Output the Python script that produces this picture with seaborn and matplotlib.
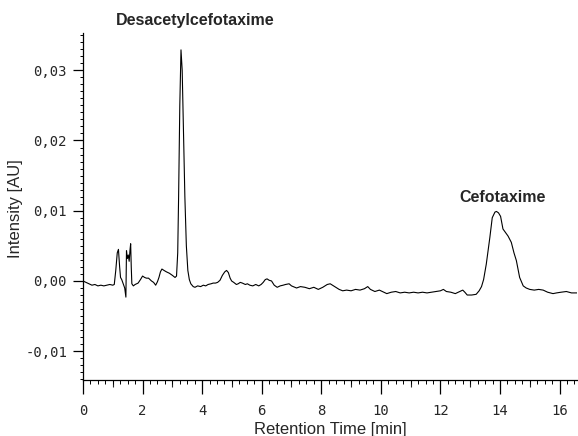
import numpy as np
import pandas as pd
import matplotlib
matplotlib.use('Agg')
import matplotlib.pyplot as plt
import matplotlib.ticker as mticker
import seaborn as sns

# chromatogram trace (min, AU)
time_min = [0.0, 0.05, 0.1, 0.2, 0.3, 0.4, 0.5, 0.6, 0.7, 0.8, 0.9, 1.0, 1.05,
            1.1, 1.15, 1.19, 1.23, 1.26, 1.3, 1.35, 1.4, 1.44, 1.46, 1.49, 1.52,
            1.55, 1.58, 1.6, 1.62, 1.64, 1.69, 1.75, 1.85, 1.93, 2.0, 2.07, 2.13,
            2.2, 2.3, 2.37, 2.44, 2.5, 2.55, 2.6, 2.65, 2.72, 2.8, 2.9, 3.0, 3.09,
            3.14, 3.18, 3.21, 3.25, 3.29, 3.33, 3.37, 3.42, 3.47, 3.52, 3.57, 3.62,
            3.7, 3.76, 3.85, 3.95, 4.04, 4.12, 4.2, 4.3, 4.37, 4.45, 4.52, 4.6,
            4.68, 4.76, 4.82, 4.88, 4.94, 4.99, 5.06, 5.15, 5.21, 5.28, 5.35, 5.45,
            5.52, 5.6, 5.7, 5.8, 5.9, 5.98, 6.05, 6.12, 6.18, 6.25, 6.33, 6.42,
            6.52, 6.62, 6.72, 6.8, 6.92, 7.0, 7.06, 7.17, 7.3, 7.45, 7.6, 7.75,
            7.9, 8.05, 8.2, 8.3, 8.45, 8.6, 8.72, 8.85, 9.0, 9.15, 9.3, 9.45,
            9.56, 9.65, 9.8, 9.95, 10.05, 10.2, 10.35, 10.5, 10.65, 10.8, 10.95,
            11.1, 11.25, 11.4, 11.55, 11.7, 11.85, 12.0, 12.1, 12.2, 12.35, 12.5,
            12.6, 12.75, 12.82, 12.9, 13.05, 13.2, 13.3, 13.38, 13.45, 13.54,
            13.66, 13.74, 13.83, 13.88, 13.95, 14.02, 14.1, 14.2, 14.27, 14.38,
            14.47, 14.55, 14.66, 14.78, 14.88, 15.0, 15.15, 15.3, 15.45, 15.6,
            15.78, 15.9, 16.05, 16.23, 16.4, 16.6]
intensity = [0.0, -0.0001, -0.0002, -0.0004, -0.0006, -0.0005, -0.0007, -0.0006,
             -0.0007, -0.0006, -0.0005, -0.0006, -0.0005,
             0.0015, 0.0040, 0.0045, 0.0020, 0.0005, 0.0002, -0.0004, -0.0010,
             -0.0023, 0.0043, 0.0032, 0.0037, 0.0028, 0.0045, 0.0053, 0.0020,
             -0.0004, -0.0007, -0.0005, -0.0003, 0.0002, 0.0007, 0.0005, 0.0004,
             0.0004, 0.0, -0.0002, -0.0006, -0.0001, 0.0005, 0.0013, 0.0017,
             0.0015, 0.0013, 0.0011, 0.0008, 0.0005,
             0.0007, 0.0040, 0.0120, 0.0250, 0.0329, 0.0300, 0.0220, 0.0120,
             0.0050, 0.0015, 0.0002, -0.0004,
             -0.0008, -0.0009, -0.0007, -0.0008, -0.0006, -0.0007, -0.0005,
             -0.0004, -0.0003, -0.0003, -0.0002, 0.0001,
             0.0008, 0.0013, 0.0015, 0.0012, 0.0004, 0.0, -0.0002, -0.0005,
             -0.0004, -0.0002, -0.0003, -0.0005,
             -0.0004, -0.0006, -0.0007, -0.0005, -0.0007, -0.0005, -0.0002,
             0.0002, 0.0003, 0.0001, 0.0, -0.0006,
             -0.0009, -0.0007, -0.0006, -0.0005, -0.0004, -0.0007, -0.0008,
             -0.0010, -0.0008, -0.0009, -0.0011, -0.0009,
             -0.0012, -0.0009, -0.0005, -0.0004, -0.0008, -0.0012, -0.0014,
             -0.0013, -0.0014, -0.0012, -0.0013, -0.0011,
             -0.0008, -0.0012, -0.0015, -0.0013, -0.0015, -0.0018, -0.0016,
             -0.0015, -0.0017, -0.0016, -0.0017,
             -0.0016, -0.0017, -0.0016, -0.0017, -0.0016, -0.0015, -0.0014,
             -0.0012, -0.0015, -0.0016, -0.0018,
             -0.0016, -0.0013, -0.0016, -0.0020, -0.0020, -0.0019, -0.0014,
             -0.0008, 0.0002, 0.0024,
             0.0062, 0.0090, 0.0098, 0.0099, 0.0097, 0.0092, 0.0074, 0.0068,
             0.0064, 0.0055,
             0.0040, 0.0029, 0.0005, -0.0007, -0.0010, -0.0012, -0.0013,
             -0.0012, -0.0013, -0.0016,
             -0.0018, -0.0017, -0.0016, -0.0015, -0.0017, -0.0017]

peak_names = ['Desacetylcefotaxime', 'Cefotaxime']
peak_label_x = [3.76, 14.1]
peak_label_y = [0.0371, 0.0119]

df = pd.DataFrame({'t': time_min, 'I': intensity})

sns.set_style('ticks')
plt.rcParams['font.family'] = ['Liberation Sans', 'DejaVu Sans']

fig = plt.figure(figsize=(5.78, 4.36), dpi=100)
ax = fig.add_axes([0.1436, 0.1284, 0.8554, 0.7959])

sns.lineplot(data=df, x='t', y='I', color='black', linewidth=0.8,
             estimator=None, sort=False, ax=ax)

ax.set_xlim(0, 16.6)
ax.set_ylim(-0.0141, 0.0353)

ax.xaxis.set_major_locator(mticker.MultipleLocator(2))
ax.xaxis.set_minor_locator(mticker.MultipleLocator(0.25))
ax.yaxis.set_major_locator(mticker.MultipleLocator(0.01))
ax.yaxis.set_minor_locator(mticker.MultipleLocator(0.001))

ax.xaxis.set_major_formatter(mticker.FuncFormatter(lambda v, p: f'{v:.0f}'))
ax.yaxis.set_major_formatter(
    mticker.FuncFormatter(lambda v, p: f'{v:.2f}'.replace('.', ',').replace('-0,00', '0,00')))

ax.tick_params(axis='both', which='both', direction='out', color='black')
ax.tick_params(axis='x', which='major', length=10, width=0.9, pad=7)
ax.tick_params(axis='x', which='minor', length=3, width=0.7)
ax.tick_params(axis='y', which='major', length=7.5, width=0.9, pad=4)
ax.tick_params(axis='y', which='minor', length=2.2, width=0.7)
for lab in ax.get_xticklabels() + ax.get_yticklabels():
    lab.set_family('DejaVu Sans Mono')
    lab.set_fontsize(10)

# medium ticks at odd minutes
sec = ax.secondary_xaxis('bottom')
sec.set_xticks([1, 3, 5, 7, 9, 11, 13, 15])
sec.tick_params(direction='out', length=5, width=0.8, labelbottom=False)
sec.spines['bottom'].set_visible(False)

sns.despine(ax=ax)
for s in ['left', 'bottom']:
    ax.spines[s].set_color('black')
    ax.spines[s].set_linewidth(0.9)

ax.set_xlabel('Retention Time [min]', fontsize=12)
ax.set_ylabel('Intensity [AU]', fontsize=12)
ax.xaxis.set_label_coords(0.5, -0.121)
ax.yaxis.set_label_coords(-0.121, 0.493)

for name, lx, ly in zip(peak_names, peak_label_x, peak_label_y):
    ax.text(lx, ly, name, ha='center', va='center', fontsize=11.5,
            fontweight='bold', clip_on=False)

fig.savefig('out.png', dpi=100)
